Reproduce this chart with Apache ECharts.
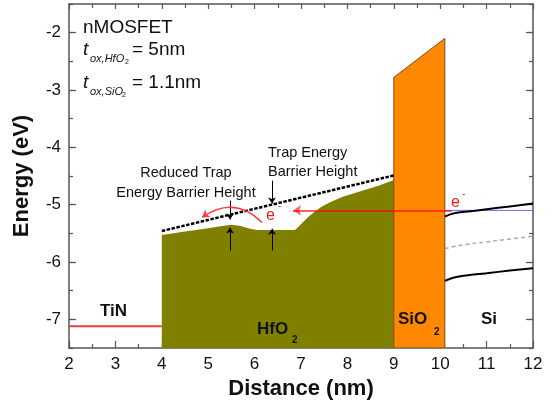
<!DOCTYPE html>
<html>
<head>
<meta charset="utf-8">
<script src="https://cdn.jsdelivr.net/npm/echarts@6/dist/echarts.min.js"></script>
<style>
  html, body { margin: 0; padding: 0; background: #fff; }
  #chart { width: 556px; height: 407px; }
</style>
</head>
<body>
<div id="chart"></div>
<script>
// Band diagram of an nMOSFET gate stack: TiN / HfO2 / SiO2 / Si
const FONT = '"Liberation Sans", Arial, sans-serif';

// metal gate Fermi level
const tinX = [2, 4];
const tinE = [-7.12, -7.12];

// HfO2 conduction band edge (with the locally lowered barrier region)
const hfX   = [4, 4.5, 5.0, 5.3, 5.5, 5.7, 5.9, 6.05, 6.87, 6.95, 7.05, 7.15, 7.3, 7.45, 7.65, 7.9, 8.3, 8.7, 9];
const hfTop = [-5.53, -5.47, -5.41, -5.37, -5.35, -5.37, -5.42, -5.44, -5.44, -5.38, -5.3, -5.22, -5.12, -5.03, -4.95, -4.86, -4.76, -4.66, -4.57];

// SiO2 interlayer outline
const sioX = [9, 9, 10.1, 10.1];
const sioE = [-7.5, -2.78, -2.1, -7.5];

// trap energy level in HfO2
const trapX = [4, 9];
const trapE = [-5.46, -4.49];

// silicon bands
const siX  = [10.1, 10.3, 10.6, 11.0, 11.5, 12];
const siEc = [-5.21, -5.15, -5.12, -5.08, -5.03, -4.98];
const siEi = [-5.77, -5.73, -5.69, -5.65, -5.60, -5.55];
const siEv = [-6.33, -6.27, -6.23, -6.195, -6.15, -6.11];
const siEfX = [10.1, 12];
const siEf  = [-5.10, -5.10];

// electron injection path
const injX = [10.25, 6.83];
const injE = [-5.10, -5.10];

// barrier height markers: [x, fromE, toE]
const barrierArrows = [
  [5.47, -4.93, -5.26],
  [5.47, -5.80, -5.40],
  [6.375, -4.58, -4.98],
  [6.375, -5.80, -5.42]
];

// hopping electron (curved arrow) endpoints
const hopFrom = [6.16, -5.31];
const hopTo   = [4.87, -5.22];

const xTicks = [2, 3, 4, 5, 6, 7, 8, 9, 10, 11, 12];
const yTicks = [-7, -6, -5, -4, -3, -2];
const yMin = -7.5, yMax = -1.5;

const AX = '#555';
const zip = (xs, ys) => xs.map((x, i) => [x, ys[i]]);

function polygonSeries(xs, ys, fill, stroke, z) {
  return {
    type: 'custom',
    coordinateSystem: 'cartesian2d',
    z: z,
    silent: true,
    clip: true,
    data: [[xs[0], ys[0]]],
    renderItem: function (params, api) {
      const pts = xs.map((x, i) => api.coord([x, ys[i]]));
      return {
        type: 'polygon',
        shape: { points: pts },
        style: { fill: fill, stroke: stroke, lineWidth: stroke ? 1 : 0 }
      };
    }
  };
}

const hfPolyX = [4].concat(hfX, [9]);
const hfPolyE = [yMin].concat(hfTop, [yMin]);

function baseYAxis(pos, major, showLabels) {
  return {
    type: 'value', position: pos, min: yMin, max: yMax, interval: 0.5,
    splitLine: { show: false },
    axisLine: { show: !major, onZero: false, lineStyle: { color: AX, width: 1.5 } },
    axisTick: major
      ? { show: true, inside: true, length: 7, customValues: yTicks, lineStyle: { color: AX, width: 1.2 } }
      : { show: true, inside: true, length: 4, lineStyle: { color: AX, width: 1.2 } },
    axisLabel: major && showLabels
      ? { show: true, customValues: yTicks, margin: 8, fontSize: 17, color: '#111', fontFamily: FONT }
      : { show: false }
  };
}

const chart = echarts.init(document.getElementById('chart'), null, { renderer: 'canvas' });

const option = {
  animation: false,
  backgroundColor: '#fff',
  grid: { left: 69, right: 23, top: 4, bottom: 59, containLabel: false },
  xAxis: [
    {
      type: 'value', position: 'bottom', min: 2, max: 12, interval: 1,
      name: 'Distance (nm)', nameLocation: 'middle', nameGap: 28,
      nameTextStyle: { fontSize: 22, fontWeight: 'bold', color: '#111', fontFamily: FONT },
      splitLine: { show: false },
      axisLine: { onZero: false, lineStyle: { color: AX, width: 1.5 } },
      axisTick: { inside: true, length: 7, lineStyle: { color: AX, width: 1.2 } },
      minorTick: { show: true, splitNumber: 2, length: 4, lineStyle: { color: AX, width: 1.2 } },
      axisLabel: { margin: 8, fontSize: 17, color: '#111', fontFamily: FONT }
    },
    {
      type: 'value', position: 'top', min: 2, max: 12, interval: 1,
      splitLine: { show: false },
      axisLine: { onZero: false, lineStyle: { color: AX, width: 1.5 } },
      axisTick: { inside: true, length: 5, lineStyle: { color: AX, width: 1.2 } },
      minorTick: { show: true, splitNumber: 2, length: 4, lineStyle: { color: AX, width: 1.2 } },
      axisLabel: { show: false }
    }
  ],
  yAxis: [
    Object.assign(baseYAxis('left', false, false), {
      name: 'Energy (eV)', nameLocation: 'middle', nameGap: 36, nameRotate: 90,
      nameTextStyle: { fontSize: 22, fontWeight: 'bold', color: '#111', fontFamily: FONT }
    }),
    baseYAxis('left', true, true),
    baseYAxis('right', false, false),
    baseYAxis('right', true, false)
  ],
  series: [
    polygonSeries(hfPolyX, hfPolyE, '#808000', null, 1),
    polygonSeries(sioX, sioE, '#ff8800', '#7a4a14', 1),
    {
      type: 'line', data: zip(tinX, tinE), symbol: 'none', z: 3,
      lineStyle: { color: '#e8403a', width: 2 }
    },
    {
      type: 'line', data: zip(trapX, trapE), symbol: 'none', z: 4,
      lineStyle: { color: '#000', width: 2.5, type: [3.5, 1.5] }
    },
    {
      type: 'line', data: zip(siEfX, siEf), symbol: 'none', z: 3,
      lineStyle: { color: '#6a6aff', width: 1 }
    },
    {
      type: 'line', data: zip(siX, siEc), symbol: 'none', smooth: true, z: 4,
      lineStyle: { color: '#000', width: 2 }
    },
    {
      type: 'line', data: zip(siX, siEi), symbol: 'none', smooth: true, z: 4,
      lineStyle: { color: '#aaa', width: 1.5, type: [4, 3] }
    },
    {
      type: 'line', data: zip(siX, siEv), symbol: 'none', smooth: true, z: 4,
      lineStyle: { color: '#000', width: 2 }
    },
    {
      type: 'lines', coordinateSystem: 'cartesian2d', z: 5, silent: true,
      symbol: ['none', 'arrow'], symbolSize: 8,
      lineStyle: { color: 'rgba(255,0,0,0.62)', width: 2, opacity: 1 },
      data: [{ coords: zip(injX, injE) }]
    },
    {
      type: 'lines', coordinateSystem: 'cartesian2d', z: 5, silent: true,
      symbol: ['none', 'arrow'], symbolSize: 6,
      lineStyle: { color: '#000', width: 1, opacity: 1 },
      data: barrierArrows.map(a => ({ coords: [[a[0], a[1]], [a[0], a[2]]] }))
    },
    {
      type: 'lines', coordinateSystem: 'cartesian2d', z: 5, silent: true,
      symbol: ['none', 'arrow'], symbolSize: 7,
      lineStyle: { color: '#ff3b3b', width: 1.5, opacity: 1, curveness: -0.42 },
      data: [{ coords: [hopFrom, hopTo] }]
    }
  ],
  graphic: [
    // device description
    { type: 'text', left: 83, top: 18, z: 10, style: { text: 'nMOSFET', font: '19px ' + FONT, fill: '#111' } },
    { type: 'text', left: 83, top: 40, z: 10, style: { text: 't', font: 'italic 19px ' + FONT, fill: '#111' } },
    { type: 'text', left: 90, top: 53, z: 10, style: { text: 'ox,HfO', font: 'italic 11px ' + FONT, fill: '#111' } },
    { type: 'text', left: 125, top: 59, z: 10, style: { text: '2', font: '7px ' + FONT, fill: '#111' } },
    { type: 'text', left: 132, top: 40, z: 10, style: { text: '= 5nm', font: '19px ' + FONT, fill: '#111' } },
    { type: 'text', left: 83, top: 73, z: 10, style: { text: 't', font: 'italic 19px ' + FONT, fill: '#111' } },
    { type: 'text', left: 90, top: 86, z: 10, style: { text: 'ox,SiO', font: 'italic 11px ' + FONT, fill: '#111' } },
    { type: 'text', left: 122, top: 92, z: 10, style: { text: '2', font: '7px ' + FONT, fill: '#111' } },
    { type: 'text', left: 132, top: 73, z: 10, style: { text: '= 1.1nm', font: '19px ' + FONT, fill: '#111' } },

    // layer names
    { type: 'text', left: 100, top: 303, z: 10, style: { text: 'TiN', font: 'bold 17px ' + FONT, fill: '#111' } },
    { type: 'text', left: 257, top: 321, z: 10, style: { text: 'HfO', font: 'bold 17px ' + FONT, fill: '#111' } },
    { type: 'text', left: 292, top: 335, z: 10, style: { text: '2', font: 'bold 10px ' + FONT, fill: '#111' } },
    { type: 'text', left: 398, top: 311, z: 10, style: { text: 'SiO', font: 'bold 17px ' + FONT, fill: '#111' } },
    { type: 'text', left: 434, top: 327, z: 10, style: { text: '2', font: 'bold 10px ' + FONT, fill: '#111' } },
    { type: 'text', left: 481, top: 311, z: 10, style: { text: 'Si', font: 'bold 17px ' + FONT, fill: '#111' } },

    // barrier annotations
    { type: 'text', x: 186, y: 163, z: 10, style: { text: 'Reduced Trap\nEnergy Barrier Height', font: '14.5px ' + FONT, fill: '#111', align: 'center', lineHeight: 20 } },
    { type: 'text', x: 268, y: 143, z: 10, style: { text: 'Trap Energy\nBarrier Height', font: '14.5px ' + FONT, fill: '#111', align: 'left', lineHeight: 19 } },

    // electrons
    { type: 'text', x: 266, y: 208, z: 10, style: { text: 'e', font: '16px ' + FONT, fill: '#e82020' } },
    { type: 'text', x: 278, y: 201, z: 10, style: { text: '-', font: '10px ' + FONT, fill: '#e82020' } },
    { type: 'text', x: 451, y: 195, z: 10, style: { text: 'e', font: '16px ' + FONT, fill: '#e82020' } },
    { type: 'text', x: 462, y: 189, z: 10, style: { text: '-', font: '10px ' + FONT, fill: '#e82020' } }
  ]
};

chart.setOption(option);
</script>
</body>
</html>
